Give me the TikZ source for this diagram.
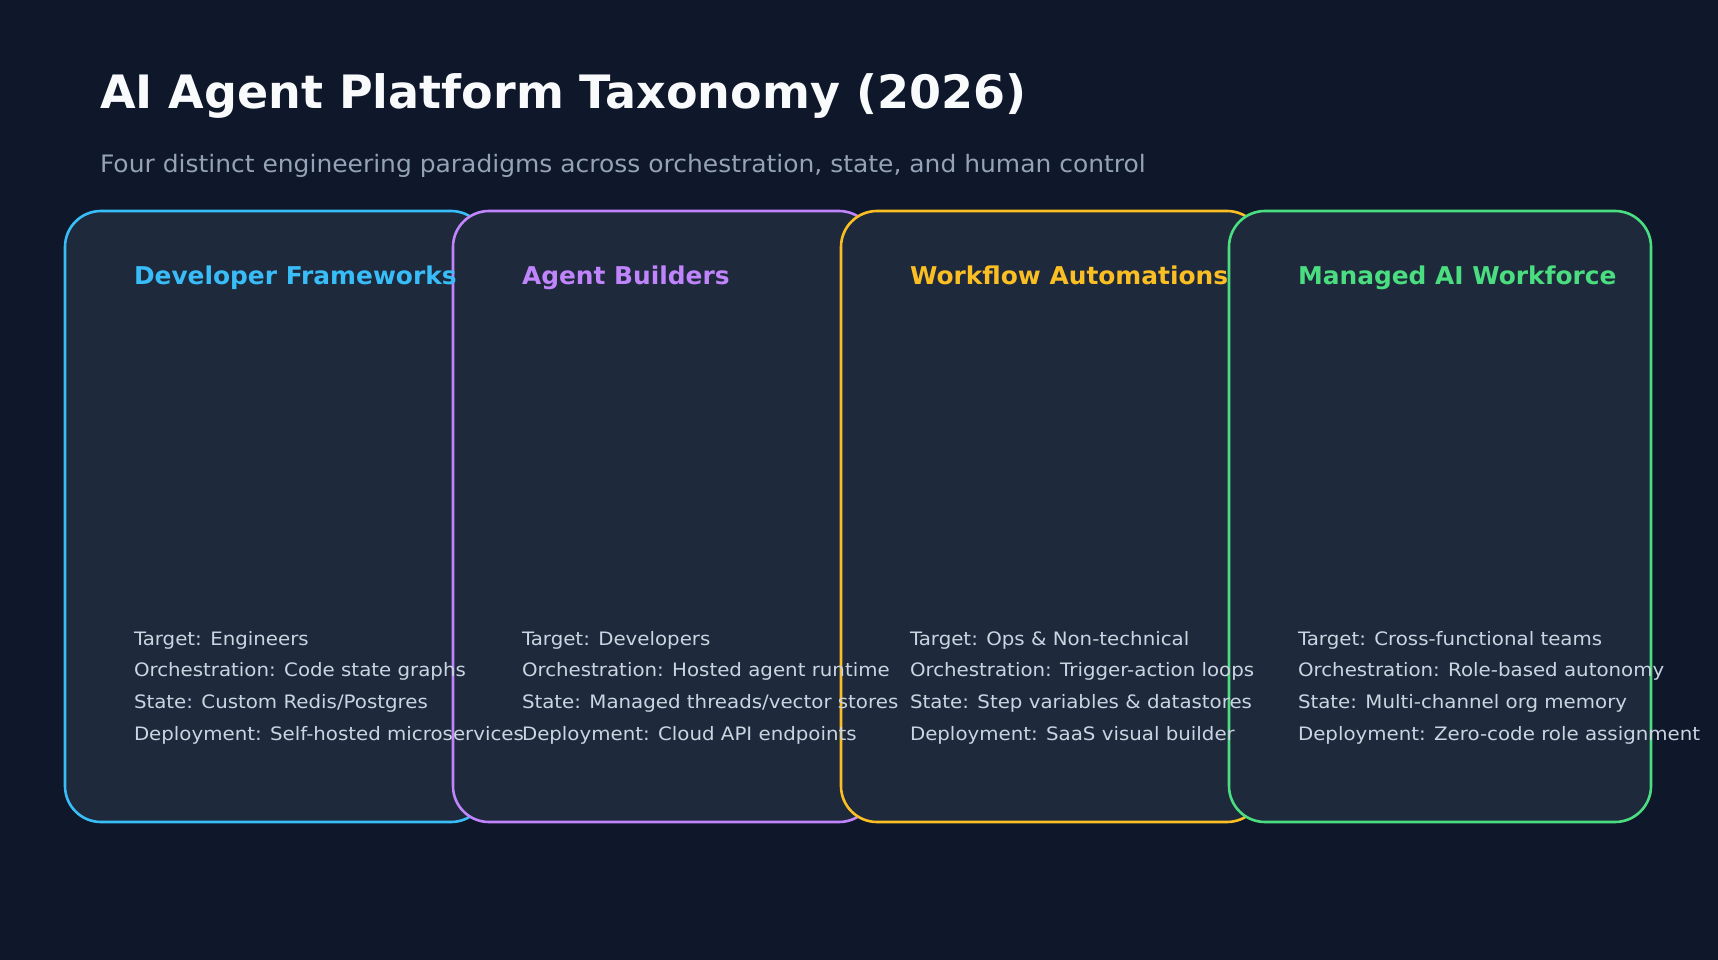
\documentclass[tikz,border=0pt]{standalone}
\usepackage{fontspec}
\setmainfont{DejaVu Sans}
\newfontfamily\titlefont{DejaVu Sans}
\newfontfamily\subfont[FakeStretch=1.04]{DejaVu Sans}
\newfontfamily\cardfont[FakeStretch=1.015]{DejaVu Sans}
\newfontfamily\bodyfont[FakeStretch=1.07]{DejaVu Sans}
\definecolor{bg}{HTML}{0F172A}
\definecolor{card}{HTML}{1E293B}
\definecolor{cblue}{HTML}{38BDF8}
\definecolor{cpurple}{HTML}{C084FC}
\definecolor{cyellow}{HTML}{FBBF24}
\definecolor{cgreen}{HTML}{4ADE80}
\definecolor{bodytxt}{HTML}{CBD5E1}
\definecolor{subtxt}{HTML}{94A3B8}
\definecolor{titletxt}{HTML}{F8FAFC}
\tikzset{
  cardbox/.style={draw=#1, fill=card, line width=2.6pt, rounded corners=36pt},
  txt/.style={anchor=base west, inner sep=0pt, outer sep=0pt},
  maintitle/.style={txt, text=titletxt, font=\titlefont\fontsize{46}{54}\selectfont\bfseries},
  subtitle/.style={txt, text=subtxt, font=\subfont\fontsize{24}{28}\selectfont},
  cardtitle/.style={txt, text=#1, font=\cardfont\fontsize{24.5}{28}\selectfont\bfseries},
  bodyline/.style={txt, text=bodytxt, font=\bodyfont\fontsize{18.5}{22}\selectfont},
}
\begin{document}
\begin{tikzpicture}[x=1pt, y=-1pt]
\fill[bg] (0,0) rectangle (1718,960);
\useasboundingbox (0,0) rectangle (1718,960);
\node[maintitle] (title) at (100,108.3) {AI Agent Platform Taxonomy (2026)};
\node[subtitle] (sub) at (100,172.7) {Four distinct engineering paradigms across orchestration, state, and human control};
% cards
\draw[cardbox=cblue] (65,211) rectangle (487,822);
\draw[cardbox=cpurple] (453,211) rectangle (875,822);
\draw[cardbox=cyellow] (841,211) rectangle (1263,822);
\draw[cardbox=cgreen] (1229,211) rectangle (1651,822);
% card 1
\node[cardtitle=cblue] (t1) at (134,284.5) {Developer Frameworks};
\node[bodyline] (a1) at (134,645) {Target: Engineers};
\node[bodyline] (b1) at (134,676.7) {Orchestration: Code state graphs};
\node[bodyline] (c1) at (134,708.3) {State: Custom Redis/Postgres};
\node[bodyline] (d1) at (134,740) {Deployment: Self-hosted microservices};
% card 2
\node[cardtitle=cpurple] (t2) at (522,284.5) {Agent Builders};
\node[bodyline] (a2) at (522,645) {Target: Developers};
\node[bodyline] (b2) at (522,676.7) {Orchestration: Hosted agent runtime};
\node[bodyline] (c2) at (522,708.3) {State: Managed threads/vector stores};
\node[bodyline] (d2) at (522,740) {Deployment: Cloud API endpoints};
% card 3
\node[cardtitle=cyellow] (t3) at (910,284.5) {Workflow Automations};
\node[bodyline] (a3) at (910,645) {Target: Ops \& Non-technical};
\node[bodyline] (b3) at (910,676.7) {Orchestration: Trigger-action loops};
\node[bodyline] (c3) at (910,708.3) {State: Step variables \& datastores};
\node[bodyline] (d3) at (910,740) {Deployment: SaaS visual builder};
% card 4
\node[cardtitle=cgreen] (t4) at (1298,284.5) {Managed AI Workforce};
\node[bodyline] (a4) at (1298,645) {Target: Cross-functional teams};
\node[bodyline] (b4) at (1298,676.7) {Orchestration: Role-based autonomy};
\node[bodyline] (c4) at (1298,708.3) {State: Multi-channel org memory};
\node[bodyline] (d4) at (1298,740) {Deployment: Zero-code role assignment};
\end{tikzpicture}
\end{document}
